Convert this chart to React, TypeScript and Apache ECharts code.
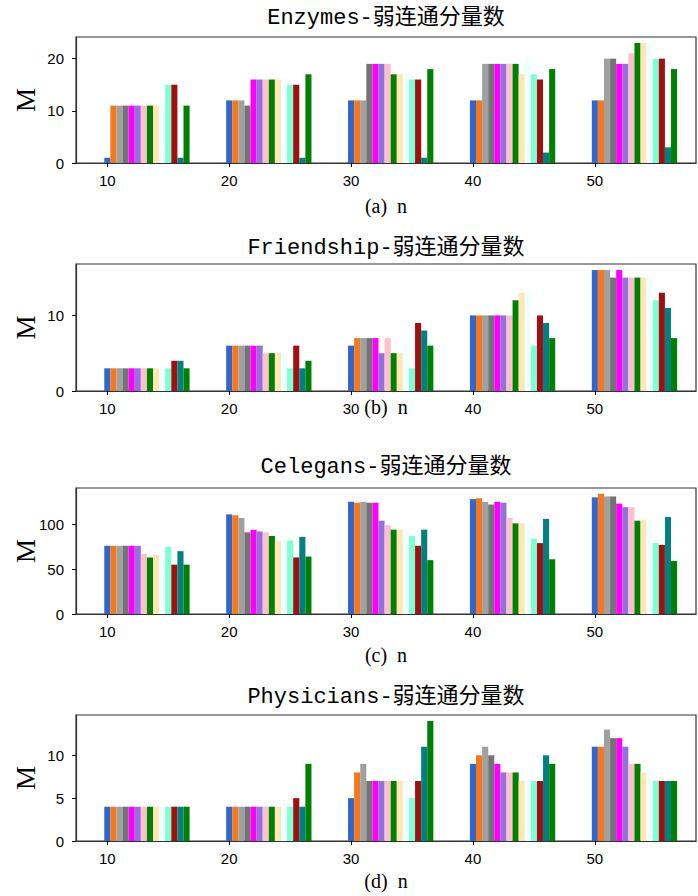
import React, { useEffect, useRef } from "react";
import * as echarts from "echarts";

// ---------- data ----------
const groupN = [10, 20, 30, 40, 50];
const xTickValues = [10, 20, 30, 40, 50];

const seriesColors = [
  "#3366CC", "#F5781E", "#A0A0A0", "#737373", "#FF00FF", "#9370DB", "#FFC0CB",
  "#008000", "#FFE6B4", "#F0FFFF", "#7FFFD4", "#A01010", "#008080", "#008000",
];

// each row: one series (colour), values at n = 10,20,30,40,50
const enzymesM = [
  [1, 12, 12, 12, 12],
  [11, 12, 12, 12, 12],
  [11, 12, 12, 19, 20],
  [11, 11, 19, 19, 20],
  [11, 16, 19, 19, 19],
  [11, 16, 19, 19, 19],
  [11, 16, 19, 19, 21],
  [11, 16, 17, 19, 23],
  [11, 16, 17, 17, 23],
  [11, 16, 17, 20, 23],
  [15, 15, 16, 17, 20],
  [15, 15, 16, 16, 20],
  [1, 1, 1, 2, 3],
  [11, 17, 18, 18, 18],
];

const friendshipM = [
  [3, 6, 6, 10, 16],
  [3, 6, 7, 10, 16],
  [3, 6, 7, 10, 16],
  [3, 6, 7, 10, 15],
  [3, 6, 7, 10, 16],
  [3, 6, 5, 10, 15],
  [3, 5, 7, 10, 15],
  [3, 5, 5, 12, 15],
  [3, 5, 5, 13, 15],
  [3, 5, 6, 13, 15],
  [3, 3, 3, 6, 12],
  [4, 6, 9, 10, 13],
  [4, 3, 8, 9, 11],
  [3, 4, 6, 7, 7],
];

const celegansM = [
  [76, 111, 125, 128, 130],
  [76, 110, 124, 129, 134],
  [76, 107, 125, 125, 131],
  [76, 91, 124, 122, 131],
  [76, 94, 124, 125, 123],
  [76, 92, 104, 124, 119],
  [67, 91, 99, 107, 119],
  [63, 87, 94, 101, 104],
  [66, 81, 94, 101, 105],
  [66, 81, 94, 100, 105],
  [75, 82, 87, 84, 79],
  [55, 63, 76, 79, 77],
  [70, 86, 94, 106, 108],
  [55, 64, 60, 61, 59],
];

const physiciansM = [
  [4, 4, 5, 9, 11],
  [4, 4, 8, 10, 11],
  [4, 4, 9, 11, 13],
  [4, 4, 7, 10, 12],
  [4, 4, 7, 9, 12],
  [4, 4, 7, 8, 11],
  [4, 4, 7, 8, 9],
  [4, 4, 7, 8, 9],
  [4, 4, 7, 7, 8],
  [4, 4, 7, 7, 8],
  [4, 4, 5, 7, 7],
  [4, 5, 7, 7, 7],
  [4, 4, 11, 10, 7],
  [4, 9, 14, 9, 7],
];

const panelTitles = [
  "Enzymes-弱连通分量数",
  "Friendship-弱连通分量数",
  "Celegans-弱连通分量数",
  "Physicians-弱连通分量数",
];
const panelXLabels = ["(a)  n", "(b)  n", "(c)  n", "(d)  n"];
const panelYTicks = [
  [0, 10, 20],
  [0, 10],
  [0, 50, 100],
  [0, 5, 10],
];
const panelYMax = [24.15, 16.8, 140.4, 14.7];
const panelData = [enzymesM, friendshipM, celegansM, physiciansM];

// ---------- layout ----------
const BAR_W = 0.5;
const GRID_LEFT = 76;
const GRID_WIDTH = 620;
const gridTops = [37, 264, 488, 715];
const gridHeights = [126, 127, 126, 126];
const titleY = [18, 248, 467, 697];
const xNameGap = [33, 6, 31, 30];
const FRAME = "#333333";

export default function App() {
  const ref = useRef<HTMLDivElement>(null);

  useEffect(() => {
    document.body.style.margin = "0";
    if (!ref.current) return;
    const chart = echarts.init(ref.current, undefined, { renderer: "svg" });

    const grids: any[] = [];
    const xAxes: any[] = [];
    const yAxes: any[] = [];
    const series: any[] = [];
    const graphics: any[] = [];

    panelData.forEach((rows, p) => {
      grids.push({
        left: GRID_LEFT,
        top: gridTops[p],
        width: GRID_WIDTH,
        height: gridHeights[p],
        show: true,
        borderColor: FRAME,
        borderWidth: 1.2,
        backgroundColor: "#fff",
      });
      xAxes.push({
        type: "value",
        gridIndex: p,
        min: 7.43,
        max: 58.3,
        splitLine: { show: false },
        axisLine: { show: true, onZero: false, lineStyle: { color: FRAME, width: 1.2 } },
        axisTick: { show: true, length: 4, customValues: xTickValues, lineStyle: { color: "#000", width: 1 } },
        axisLabel: {
          customValues: xTickValues,
          margin: 10,
          fontSize: 15,
          color: "#000",
          fontFamily: "'Liberation Sans', Arial, sans-serif",
        },
        name: panelXLabels[p],
        nameLocation: "middle",
        nameGap: xNameGap[p],
        nameMoveOverlap: false,
        nameTextStyle: { fontFamily: "'Liberation Serif', 'Times New Roman', serif", fontSize: 20, color: "#000" },
      });
      yAxes.push({
        type: "value",
        gridIndex: p,
        min: 0,
        max: panelYMax[p],
        splitLine: { show: false },
        axisLine: { show: true, lineStyle: { color: FRAME, width: 1.2 } },
        axisTick: { show: true, length: 4, customValues: panelYTicks[p], lineStyle: { color: "#000", width: 1 } },
        axisLabel: {
          customValues: panelYTicks[p],
          margin: 12,
          fontSize: 15,
          color: "#000",
          fontFamily: "'Liberation Sans', Arial, sans-serif",
        },
        name: "M",
        nameLocation: "middle",
        nameGap: 37,
        nameMoveOverlap: false,
        nameTextStyle: { fontFamily: "'Liberation Serif', 'Times New Roman', serif", fontSize: 27, color: "#000" },
      });

      const items: any[] = [];
      rows.forEach((vals, s) => {
        vals.forEach((v, g) => {
          items.push([groupN[g] + s * BAR_W, v, s]);
        });
      });
      series.push({
        type: "custom",
        xAxisIndex: p,
        yAxisIndex: p,
        clip: true,
        encode: { x: 0, y: 1 },
        data: items,
        renderItem: (params: any, api: any) => {
          const x = api.value(0);
          const y = api.value(1);
          const c = api.value(2);
          const tl = api.coord([x - BAR_W / 2, y]);
          const br = api.coord([x + BAR_W / 2, 0]);
          return {
            type: "rect",
            shape: { x: tl[0], y: tl[1], width: br[0] - tl[0], height: br[1] - tl[1] },
            style: { fill: seriesColors[c] },
          };
        },
      });

      graphics.push({
        type: "text",
        x: GRID_LEFT + GRID_WIDTH / 2,
        y: titleY[p],
        style: {
          text: panelTitles[p],
          fontSize: 22,
          fontFamily: "'Liberation Mono', 'Noto Sans CJK SC', monospace",
          fill: "#000",
          align: "center",
          verticalAlign: "middle",
        },
      });
    });

    // the reference's "(b)  n" label is partly hidden at its top
    graphics.push({
      type: "rect",
      z: 100,
      shape: { x: 352, y: 392, width: 70, height: 6 },
      style: { fill: "#fff" },
    });

    chart.setOption({
      animation: false,
      backgroundColor: "#fff",
      grid: grids,
      xAxis: xAxes,
      yAxis: yAxes,
      series,
      graphic: graphics,
    });

    return () => chart.dispose();
  }, []);

  return <div ref={ref} style={{ width: 698, height: 896 }} />;
}
